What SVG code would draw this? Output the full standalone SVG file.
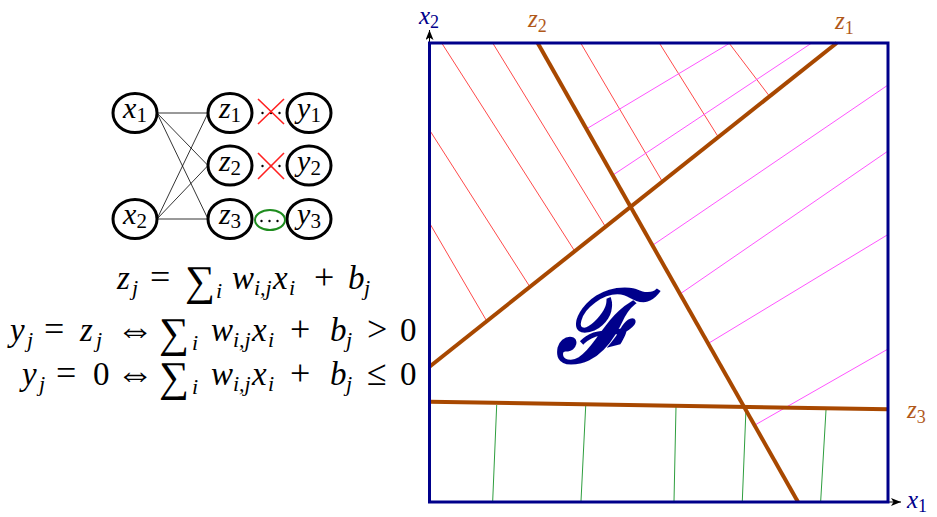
<svg xmlns="http://www.w3.org/2000/svg" width="937" height="517" viewBox="0 0 937 517">
<style>
.nd{fill:#fff;stroke:#000;stroke-width:3}
.ed{stroke:#000;stroke-width:0.8;fill:none}
.lbl{font-size:30px;fill:#000}
.it{font-style:italic}
.sub{font-size:21px}
.eq{font-size:33px;fill:#000}
.sb{font-size:22px;font-style:italic}
.sg{font-size:42px;font-style:normal}
.op{font-size:36px;font-style:normal}
.iff{font-size:38px;font-style:normal}
.red{stroke:#ff4a4a;stroke-width:1;fill:none}
.mag{stroke:#ff55ff;stroke-width:1;fill:none}
.grn{stroke:#2e9e3e;stroke-width:1;fill:none}
.brn{stroke:#a84800;stroke-width:4;fill:none;stroke-linecap:butt}
.ax{font-size:25px;font-style:italic}
.axs{font-size:18px;font-style:normal}
</style>
<defs>
<marker id="ah" markerUnits="userSpaceOnUse" markerWidth="12" markerHeight="10" refX="10" refY="4" orient="auto">
<path d="M0,0 L10,4 L0,8 L2.5,4 Z" fill="#000"/>
</marker>
</defs>

<g id="connectors">
<line class="ed" x1="157" y1="113" x2="208" y2="113"/>
<line class="ed" x1="157" y1="113" x2="208" y2="165.5"/>
<line class="ed" x1="157" y1="113" x2="208" y2="219"/>
<line class="ed" x1="157" y1="219" x2="208" y2="113"/>
<line class="ed" x1="157" y1="219" x2="208" y2="165.5"/>
<line class="ed" x1="157" y1="219" x2="208" y2="219"/>
</g>

<g font-family="Liberation Serif, serif">
<g id="node-x1"><ellipse class="nd" cx="135" cy="113" rx="22" ry="19.5"/><text class="lbl" x="135" y="118" text-anchor="middle"><tspan class="it">x</tspan><tspan class="sub" dy="4">1</tspan></text></g>
<g id="node-x2"><ellipse class="nd" cx="135" cy="219" rx="22" ry="19.5"/><text class="lbl" x="135" y="224" text-anchor="middle"><tspan class="it">x</tspan><tspan class="sub" dy="4">2</tspan></text></g>
<g id="node-z1"><ellipse class="nd" cx="230" cy="113" rx="22" ry="19.5"/><text class="lbl" x="230" y="118" text-anchor="middle"><tspan class="it">z</tspan><tspan class="sub" dy="4">1</tspan></text></g>
<g id="node-z2"><ellipse class="nd" cx="230" cy="165.5" rx="22" ry="19.5"/><text class="lbl" x="230" y="170.5" text-anchor="middle"><tspan class="it">z</tspan><tspan class="sub" dy="4">2</tspan></text></g>
<g id="node-z3"><ellipse class="nd" cx="230" cy="219" rx="22" ry="19.5"/><text class="lbl" x="230" y="224" text-anchor="middle"><tspan class="it">z</tspan><tspan class="sub" dy="4">3</tspan></text></g>
<g id="node-y1"><ellipse class="nd" cx="309" cy="113" rx="22" ry="19.5"/><text class="lbl" x="309" y="118" text-anchor="middle"><tspan class="it">y</tspan><tspan class="sub" dy="4">1</tspan></text></g>
<g id="node-y2"><ellipse class="nd" cx="309" cy="165.5" rx="22" ry="19.5"/><text class="lbl" x="309" y="170.5" text-anchor="middle"><tspan class="it">y</tspan><tspan class="sub" dy="4">2</tspan></text></g>
<g id="node-y3"><ellipse class="nd" cx="309" cy="219" rx="22" ry="19.5"/><text class="lbl" x="309" y="224" text-anchor="middle"><tspan class="it">y</tspan><tspan class="sub" dy="4">3</tspan></text></g>
</g>

<g id="link-marks">
<circle cx="262.5" cy="113" r="1.2" fill="#000"/><circle cx="271" cy="113" r="1.2" fill="#000"/><circle cx="279.5" cy="113" r="1.2" fill="#000"/>
<path d="M258,99 L284,124 M284,99 L258,124" stroke="#ff2020" stroke-width="1.6" fill="none"/>
<circle cx="262.5" cy="166" r="1.2" fill="#000"/><circle cx="271" cy="166" r="1.2" fill="#000"/><circle cx="279.5" cy="166" r="1.2" fill="#000"/>
<path d="M258,153 L284,179 M284,153 L258,179" stroke="#ff2020" stroke-width="1.6" fill="none"/>
<circle cx="261.5" cy="221" r="1.2" fill="#000"/><circle cx="269.5" cy="221" r="1.2" fill="#000"/><circle cx="277.5" cy="221" r="1.2" fill="#000"/>
<ellipse cx="270" cy="220" rx="15" ry="10" stroke="#1e8c1e" stroke-width="2" fill="none"/>
</g>

<g id="equations" font-family="Liberation Serif, DejaVu Serif, serif">
<text class="eq" y="289"><tspan class="it" x="117">z</tspan><tspan class="sb" x="132" y="295">j</tspan><tspan class="op" x="150" y="289">=</tspan><tspan class="sg" x="185" y="295">∑</tspan><tspan class="sb" x="216" y="298">i</tspan><tspan class="it" x="232" y="289">w</tspan><tspan class="sb" x="254" y="295">i,j</tspan><tspan class="it" x="273" y="289">x</tspan><tspan class="sb" x="289" y="295">i</tspan><tspan class="op" x="314" y="289">+</tspan><tspan class="it" x="348">b</tspan><tspan class="sb" x="364" y="295">j</tspan></text>
<text class="eq" y="341"><tspan class="it" x="10">y</tspan><tspan class="sb" x="27" y="347">j</tspan><tspan class="op" x="44" y="341">=</tspan><tspan class="it" x="80">z</tspan><tspan class="sb" x="96" y="347">j</tspan><tspan class="iff" x="116" y="342">⇔</tspan><tspan class="sg" x="159" y="347">∑</tspan><tspan class="sb" x="192" y="350">i</tspan><tspan class="it" x="211" y="341">w</tspan><tspan class="sb" x="233" y="347">i,j</tspan><tspan class="it" x="252" y="341">x</tspan><tspan class="sb" x="268" y="347">i</tspan><tspan class="op" x="290" y="341">+</tspan><tspan class="it" x="330">b</tspan><tspan class="sb" x="346" y="347">j</tspan><tspan class="op" x="367" y="341">&gt;</tspan><tspan x="400">0</tspan></text>
<text class="eq" y="385"><tspan class="it" x="22">y</tspan><tspan class="sb" x="39" y="391">j</tspan><tspan class="op" x="56" y="385">=</tspan><tspan x="93">0</tspan><tspan class="iff" x="116" y="386">⇔</tspan><tspan class="sg" x="159" y="391">∑</tspan><tspan class="sb" x="192" y="394">i</tspan><tspan class="it" x="211" y="385">w</tspan><tspan class="sb" x="233" y="391">i,j</tspan><tspan class="it" x="252" y="385">x</tspan><tspan class="sb" x="268" y="391">i</tspan><tspan class="op" x="290" y="385">+</tspan><tspan class="it" x="330">b</tspan><tspan class="sb" x="346" y="391">j</tspan><tspan class="op" x="367" y="385">≤</tspan><tspan x="400">0</tspan></text>
</g>

<g id="hatching">
<line class="red" x1="441.7" y1="43" x2="574" y2="250"/>
<line class="red" x1="492.7" y1="43" x2="605" y2="226"/>
<line class="red" x1="580.7" y1="43" x2="662" y2="181"/>
<line class="red" x1="659.3" y1="43" x2="718.3" y2="137"/>
<line class="red" x1="729" y1="43" x2="769.3" y2="96"/>
<line class="red" x1="429.5" y1="130" x2="530" y2="287"/>
<line class="red" x1="429.5" y1="223" x2="486.7" y2="321"/>
<line class="mag" x1="730" y1="43" x2="588" y2="128"/>
<line class="mag" x1="811.7" y1="43" x2="613" y2="175"/>
<line class="mag" x1="888" y1="85" x2="653" y2="245"/>
<line class="mag" x1="888" y1="151" x2="680" y2="294"/>
<line class="mag" x1="888" y1="234.5" x2="709" y2="343"/>
<line class="mag" x1="888" y1="349" x2="755" y2="425"/>
<line class="grn" x1="496.7" y1="405" x2="492.7" y2="501"/>
<line class="grn" x1="585.7" y1="406" x2="581" y2="501"/>
<line class="grn" x1="676" y1="406.7" x2="674" y2="501"/>
<line class="grn" x1="746" y1="408.3" x2="742.3" y2="501"/>
<line class="grn" x1="826" y1="410" x2="820.7" y2="501"/>
</g>

<g id="boundaries">
<line class="brn" x1="836.7" y1="43" x2="429.5" y2="366.7"/>
<line class="brn" x1="537.7" y1="43" x2="798" y2="502"/>
<line class="brn" x1="429.5" y1="401.7" x2="888" y2="409.3"/>
</g>

<g id="axes">
<line x1="429.5" y1="502" x2="901" y2="502" stroke="#000" stroke-width="1" marker-end="url(#ah)"/>
<line x1="429.5" y1="502" x2="429.5" y2="30" stroke="#000" stroke-width="1" marker-end="url(#ah)"/>
<rect x="429.5" y="43" width="458.5" height="459" fill="none" stroke="#00008b" stroke-width="3"/>
</g>

<g id="labels" font-family="Liberation Serif, serif">
<text class="ax" x="419" y="24" fill="#00008b">x<tspan class="axs" dy="4">2</tspan></text>
<text class="ax" x="907" y="508" fill="#00008b">x<tspan class="axs" dy="4">1</tspan></text>
<text class="ax" x="528" y="27" fill="#b0581a">z<tspan class="axs" dy="5">2</tspan></text>
<text class="ax" x="835" y="29" fill="#b0581a">z<tspan class="axs" dy="5">1</tspan></text>
<text class="ax" x="907" y="418" fill="#b0581a">z<tspan class="axs" dy="5">3</tspan></text>
<text x="597" y="362" text-anchor="middle" font-family="'DejaVu Serif',serif" font-style="italic" font-weight="bold" font-size="100" fill="#00008b">ℱ</text>
</g>
</svg>
